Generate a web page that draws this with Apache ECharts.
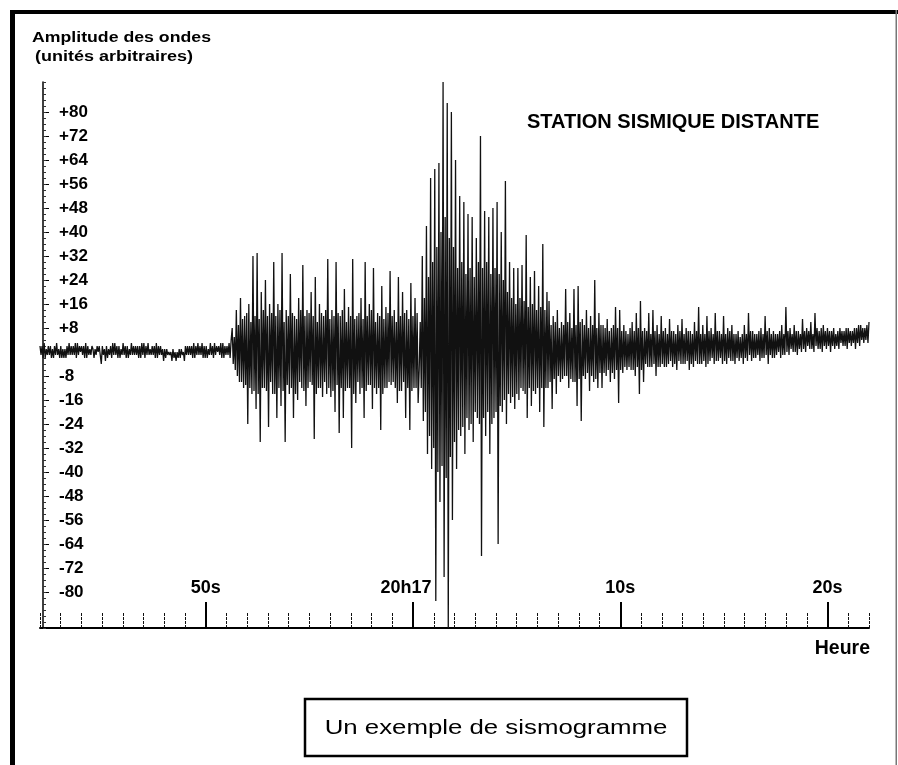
<!DOCTYPE html>
<html><head><meta charset="utf-8">
<script src="https://cdn.jsdelivr.net/npm/echarts@6/dist/echarts.min.js"></script>
<style>html,body{margin:0;padding:0;background:#fff}#c{width:898px;height:765px}</style>
</head><body><div id="c"></div>
<script>
// Sismogramme: amplitude samples (about every 0.05 s) from 20h16m42s to 20h17m22s
const quietPhase = [
 2,-1,2,-2, 3,-2,1,-1, 2,-1,2,-2, 1,-2,2,-1, 3,-1,1,-2,
 2,-2,1,-2, 1,-2,2,-1, 3,-1,2,-1, 2,-1,3,-2, 3,-1,2,0,
 2,-1,2,-2, 3,-2,2,-1, 1,-1,2,1, -2,1,-1,2, 0,2,-1,-4,
 2,-1,1,-3, 2,-2,1,-1, 2,-2,3,-1, 3,-1,2,-2, 2,-2,1,-1,
 3,-1,2,-2, 2,-2,1,-1, 3,-1,2,-1, 2,-1,2,-2, 2,-2,3,-1,
 3,-2,2,-1, 3,-1,1,-1, 2,-1,2,-2, 3,-2,2,-1, 2,-1,1,-3,
 1,-2,1,-1, 0,-1,0,-3, 1,-2,0,-3, 0,-2,1,-2, 1,-1,0,-3,
 2,-1,2,-1, 2,-1,2,-2, 3,-2,2,-1, 3,-1,2,-1, 3,-2,2,-2,
 2,-2,1,-1, 3,-1,2,-2, 3,-1,2,0, 2,-1,3,-2, 3,-2,2,-1,
 2,-1,3,-2, 4
];
const primaryWaves = [
 8,-4,5,-6, 14,-8,9,-10, 18,-10,11,-12, 12,-11,13,-24,
 16,-12,10,-14, 32,-13,12,-19, 33,-14,11,-30, 20,-12,14,-12,
 24,-13,12,-25, 16,-10,13,-14, 30,-14,12,-22, 16,-12,14,-18,
 33,-13,10,-30, 14,-11,12,-14, 26,-12,13,-22, 12,-14,11,-16,
 18,-10,14,-12, 29,-13,12,-18, 14,-12,13,-10, 20,-11,12,-29,
 25,-14,10,-12, 16,-12,13,-15, 12,-10,14,-14, 31,-12,11,-15,
 14,-13,12,-20, 30,-11,13,-27, 12,-12,14,-22, 21,-13,10,-12,
 15,-12,12,-32, 31,-14,11,-17, 12,-10,13,-14, 18,-12,11,-22,
 30,-13,12,-11, 16,-11,14,-19, 28,-12,10,-14, 13,-12,12,-26,
 22,-14,11,-12, 15,-12,13,-10, 27,-11,12,-10, 14,-12,10,-17,
 25,-13,12,-13, 20,-10,13,-22, 14,-12,11,-26, 23,-13,12,-12,
 18,-12,13,-17, -6,10,-12,32
];
const mainShock = [
 -23,18,-20,42, -34,25,-28,58, -39,30,-32,61, -83,35,-40,63,
 -50,40,-38,90, -75,45,-42,83, -92,38,-35,80, -56,35,-30,64,
 -39,28,-26,52, -28,30,-25,50, -34,26,-22,46, -26,28,-24,45,
 -30,25,-20,38, -22,30,-24,72, -68,28,-22,47, -28,30,-20,45,
 -34,26,-24,48, -22,28,-20,50, -64,26,-18,40, -20,24,-16,57,
 -24,20,-14,30, -17,18,-15,28, -19,16,-14,28, -16,18,-12,29,
 -13,17,-14,39, -22,15,-12,25, -18,16,-13,27, -14,14,-12,22,
 -20,15,-12,36, -25,14,-12,20, -12
];
const coda = [
 17,-10,9,-19, 12,-9,10,-14, 14,-8,8,-10, 10,-9,9,-8, 21,-8,10,-12,
 13,-9,8,-10, 21,-10,9,-18, 22,-9,10,-23, 11,-8,9,-9, 14,-7,8,-13,
 12,-8,9,-10, 24,-9,8,-12, 13,-7,9,-12, 9,-7,8,-8, 11,-6,7,-10,
 8,-7,9,-9, 15,-6,8,-17, 14,-6,7,-7, 9,-5,7,-6, 6,-5,8,-6,
 10,-6,7,-8, 13,-5,8,-14, 17,-6,7,-10, 8,-4,7,-5, 13,-5,6,-5,
 14,-4,7,-8, 9,-5,6,-5, 12,-4,7,-5, 8,-5,6,-4, 11,-3,7,-5,
 7,-4,6,-6, 9,-3,7,-4, 11,-4,6,-4, 8,-3,7,-6, 7,-4,6,-5,
 10,-3,7,-4, 15,-4,6,-4, 9,-3,6,-5, 12,-4,7,-3, 8,-2,6,-4,
 13,-3,7,-3, 7,-2,6,-4, 12,-3,6,-4, 8,-2,7,-3, 9,-3,6,-4,
 6,-2,7,-3, 5,-2,6,-4, 9,-2,6,-3, 13,-1,7,-3, 7,-2,6,-2,
 6,-1,7,-3, 8,-2,6,-2, 12,-1,7,-4, 8,-1,6,-2, 7,-2,6,-1,
 6,0,7,-2, 9,-1,6,-1, 15,0,7,-1, 8,1,6,0, 9,0,7,-1,
 7,1,6,0, 11,1,7,0, 8,2,7,1, 10,1,6,0, 13,2,8,1,
 7,1,8,0, 9,2,7,1, 8,2,7,0, 7,2,8,1, 6,2,7,1,
 8,3,7,2, 7,2,8,1, 8,3,7,2, 7,3,8,1, 8,3,9,2,
 9,4,8,3, 8,4,9,3, 10
];
const samples = quietPhase.concat(primaryWaves, mainShock, coda);

// axes (time in seconds relative to 20h17)
const xMin = -18, xMax = 22;
const xTickValues = [-10, 0, 10, 20];
const xTickLabels = ['50s', '20h17', '10s', '20s'];
const yMin = -92, yMax = 90;
const yTickValues = [80,72,64,56,48,40,32,24,16,8,-8,-16,-24,-32,-40,-48,-56,-64,-72,-80];

const FONT = '"Liberation Sans", Arial, Helvetica, sans-serif';

const chart = echarts.init(document.getElementById('c'), null, {renderer: 'canvas'});
chart.setOption({
  animation: false,
  backgroundColor: '#fff',
  grid: {left: 40, width: 829, top: 82, height: 546, containLabel: false},
  xAxis: [
    {type: 'category', show: false, boundaryGap: false, position: 'bottom',
     data: samples.map((_, i) => i)},
    {type: 'value', min: xMin, max: xMax, interval: 1, position: 'bottom',
     axisLine: {onZero: false, lineStyle: {color: '#000', width: 2}},
     axisTick: {inside: true, length: 15, lineStyle: {color: '#111', width: 1, type: [3, 1]}},
     axisLabel: {show: false}, splitLine: {show: false}},
    {type: 'value', min: xMin, max: xMax, position: 'bottom',
     axisLine: {show: false, onZero: false},
     axisTick: {customValues: xTickValues, inside: true, length: 26, lineStyle: {color: '#000', width: 2}},
     axisLabel: {customValues: xTickValues, inside: true, margin: 31,
       color: '#000', fontFamily: FONT, fontWeight: 'bold', fontSize: 18,
       formatter: function (v) {
         const k = xTickValues.indexOf(v);
         if (k < 0) return '';
         return k === 1 ? '{s|' + xTickLabels[k] + '}' : xTickLabels[k];
       },
       rich: {s: {padding: [0, 14, 0, 0], color: '#000', fontFamily: FONT, fontWeight: 'bold', fontSize: 18}}},
     splitLine: {show: false}}
  ],
  yAxis: [
    {type: 'value', min: yMin, max: yMax, position: 'left', offset: -3,
     axisLine: {show: true, onZero: false, lineStyle: {color: '#000', width: 1.5}},
     axisTick: {show: true, customValues: yTickValues, inside: true, length: 6, lineStyle: {color: '#000', width: 1}},
     axisLabel: {customValues: yTickValues, inside: true, margin: 16,
       color: '#000', fontFamily: FONT, fontWeight: 'bold', fontSize: 17,
       formatter: v => (v > 0 ? '+' + v : '' + v)},
     splitLine: {show: false}},
    {type: 'value', min: yMin, max: yMax, interval: 2, position: 'left', offset: -3,
     axisLine: {show: false, onZero: false},
     axisTick: {show: true, inside: true, length: 3, lineStyle: {color: '#333', width: 1}},
     axisLabel: {show: false}, splitLine: {show: false}}
  ],
  series: [{
    type: 'line', xAxisIndex: 0, yAxisIndex: 0, data: samples,
    showSymbol: false, symbol: 'none', smooth: false,
    lineStyle: {color: '#111', width: 1.3}, z: 3
  }],
  graphic: {elements: [
    {type: 'rect', shape: {x: 10, y: 10, width: 5, height: 755}, style: {fill: '#000'}, z: 100},
    {type: 'rect', shape: {x: 10, y: 10, width: 888, height: 4}, style: {fill: '#000'}, z: 100},
    {type: 'rect', shape: {x: 895.5, y: 10, width: 1.5, height: 755}, style: {fill: '#777'}, z: 100},
    {type: 'text', x: 32, y: 38, scaleX: 1.18, z: 100,
     style: {text: 'Amplitude des ondes', x: 0, y: 0, fill: '#000', font: 'bold 15px ' + FONT, align: 'left', verticalAlign: 'middle'}},
    {type: 'text', x: 35, y: 57, scaleX: 1.2, z: 100,
     style: {text: '(unités arbitraires)', x: 0, y: 0, fill: '#000', font: 'bold 15px ' + FONT, align: 'left', verticalAlign: 'middle'}},
    {type: 'text', x: 527, y: 122, z: 100,
     style: {text: 'STATION SISMIQUE DISTANTE', x: 0, y: 0, fill: '#000', font: 'bold 20px ' + FONT, align: 'left', verticalAlign: 'middle'}},
    {type: 'text', x: 870, y: 649, z: 100,
     style: {text: 'Heure', x: 0, y: 0, fill: '#000', font: 'bold 19.5px ' + FONT, align: 'right', verticalAlign: 'middle'}},
    {type: 'rect', shape: {x: 305, y: 699, width: 382, height: 57}, style: {fill: 'none', stroke: '#000', lineWidth: 2.5}, z: 100},
    {type: 'text', x: 496, y: 728, scaleX: 1.29, z: 100,
     style: {text: 'Un exemple de sismogramme', x: 0, y: 0, fill: '#000', font: '20px ' + FONT, align: 'center', verticalAlign: 'middle'}}
  ]}
});
</script>
</body></html>
